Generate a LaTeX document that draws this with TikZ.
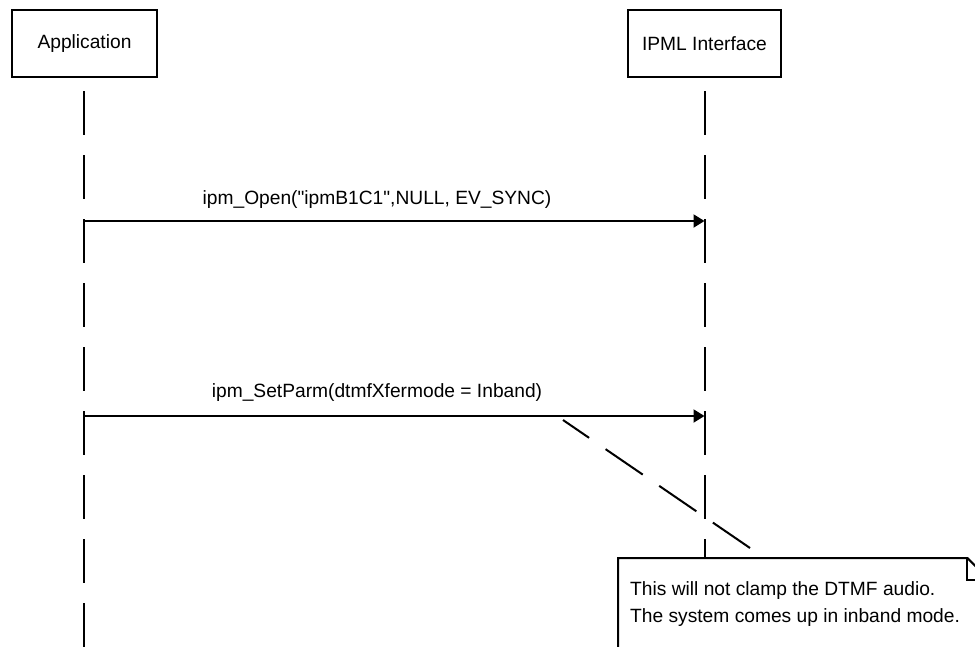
\documentclass[tikz,border=0pt]{standalone}
\usepackage{fontspec}
\setmainfont{Liberation Sans}[Ligatures=TeXOff]
\usetikzlibrary{arrows.meta}
\begin{document}
\begin{tikzpicture}[x=1pt,y=-1pt,
  font=\fontsize{19.2}{27}\selectfont,
  actor/.style={draw, line width=2.2pt, fill=white, minimum height=67pt, inner sep=0pt},
  lifeline/.style={line width=2pt, dash pattern=on 44pt off 20pt},
  msg/.style={line width=2pt, -{Triangle[length=11pt,width=13pt]}},
  msglabel/.style={anchor=base, inner sep=0pt},
  notelink/.style={line width=2pt, dash pattern=on 45pt off 20pt},
  noteline/.style={line width=2pt, line join=miter}]
\fill[white] (0,0) rectangle (975,646);
\useasboundingbox (0,0) rectangle (975,646);
\clip (0,0) rectangle (975,646);

% participants
\node[actor, minimum width=145pt] (app) at (84.5,43.5) {Application};
\node[actor, minimum width=153pt] (ipml) at (704.5,43.5) {IPML Interface};

% note body (white background first, outline drawn below)
\node[fill=white, minimum width=371pt, minimum height=150pt, anchor=north west, inner sep=0pt] (note) at (618,558) {};

% lifelines
\coordinate (appTop) at ([yshift=-13pt]app.south -| 83.5,0);
\coordinate (ipmlTop) at ([yshift=-13pt]ipml.south);
\draw[lifeline] (appTop) -- (appTop |- 0,670);
\draw[lifeline] (ipmlTop) -- (ipmlTop |- note.north);

% messages
\coordinate (a1) at (appTop |- 0,221);
\coordinate (b1) at (ipmlTop |- 0,221);
\draw[msg] (a1) -- (b1);
\node[msglabel] (l1) at (377,204) {ipm\_Open("ipmB1C1",NULL, EV\_SYNC)};

\coordinate (a2) at (appTop |- 0,416);
\coordinate (b2) at (ipmlTop |- 0,416);
\draw[msg] (a2) -- (b2);
\node[msglabel] (l2) at (377,397) {ipm\_SetParm(dtmfXfermode = Inband)};

% note outline with folded corner
\coordinate (fold) at ([xshift=-22pt]note.north east);
\coordinate (foldEnd) at ([yshift=-22pt]note.north east);
\draw[noteline] (note.south west) -- (note.north west) -- (fold) -- (foldEnd) -- (note.south east);
\draw[noteline] (fold) -- (fold |- foldEnd) -- (foldEnd);
\node[anchor=north west, align=left, inner sep=0pt] (notetext) at (630,581)
  {This will not clamp the DTMF audio.\\The system comes up in inband mode.};

% note attachment to the second message
\coordinate (noteTip) at (750,548);
\coordinate (msgTip) at (563,420);
\draw[notelink] (noteTip) -- (msgTip);
\end{tikzpicture}
\end{document}
